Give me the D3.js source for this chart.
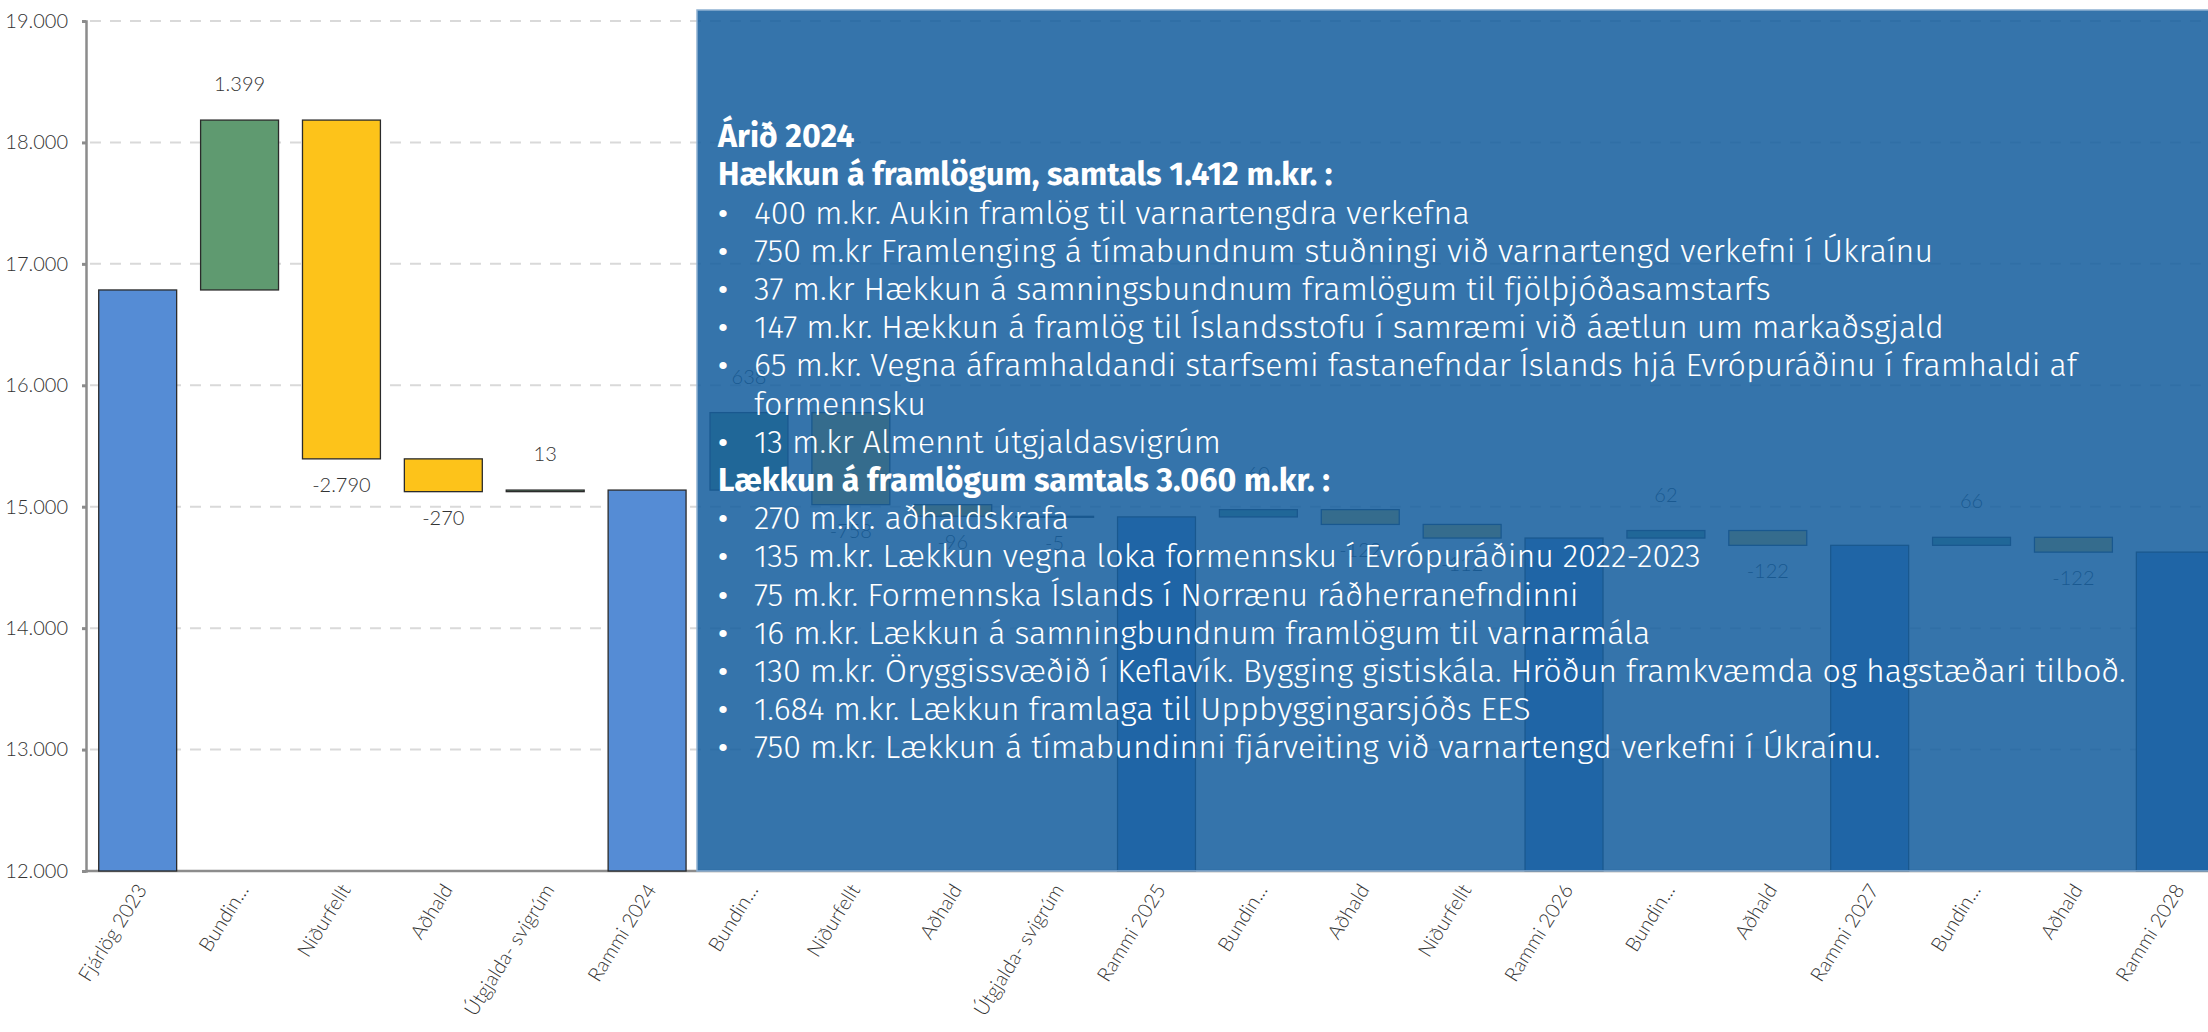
<!DOCTYPE html>
<html>
<head>
<meta charset="utf-8">
<script src="https://cdn.jsdelivr.net/npm/d3@7"></script>
<style>
  html, body { margin: 0; padding: 0; background: #fff; }
  svg { display: block; }
</style>
</head>
<body>
<div id="chart"></div>
<script>
// waterfall: fjárlög 2023 -> rammi 2028
const categories = ["Fjárlög 2023", "Bundin...", "Niðurfellt", "Aðhald", "Útgjalda- svigrúm", "Rammi 2024",
  "Bundin...", "Niðurfellt", "Aðhald", "Útgjalda- svigrúm", "Rammi 2025",
  "Bundin...", "Aðhald", "Niðurfellt", "Rammi 2026",
  "Bundin...", "Aðhald", "Rammi 2027",
  "Bundin...", "Aðhald", "Rammi 2028"];
// first entry is the starting level, totals carry 0 and are summed
const changes = [16785, 1399, -2790, -270, 13, 0,
  638, -758, -96, -5, 0,
  60, -122, -112, 0,
  62, -122, 0,
  66, -122, 0];
const isTotal = [true, false, false, false, false, true,
  false, false, false, false, true,
  false, false, false, true,
  false, false, true,
  false, false, true];
const yTicks = [12000, 13000, 14000, 15000, 16000, 17000, 18000, 19000];

// text box lines: h = heading, b = bullet, c = continued line
const noteLines = [
  ["h", "Árið 2024"],
  ["h", "Hækkun á framlögum, samtals 1.412 m.kr. :"],
  ["b", "400 m.kr. Aukin framlög til varnartengdra verkefna"],
  ["b", "750 m.kr Framlenging á tímabundnum stuðningi við varnartengd verkefni í Úkraínu"],
  ["b", "37 m.kr Hækkun á samningsbundnum framlögum til fjölþjóðasamstarfs"],
  ["b", "147 m.kr. Hækkun á framlög til Íslandsstofu í samræmi við áætlun um markaðsgjald"],
  ["b", "65 m.kr. Vegna áframhaldandi starfsemi fastanefndar Íslands hjá Evrópuráðinu í framhaldi af"],
  ["c", "formennsku"],
  ["b", "13 m.kr Almennt útgjaldasvigrúm"],
  ["h", "Lækkun á framlögum samtals 3.060 m.kr. :"],
  ["b", "270 m.kr. aðhaldskrafa"],
  ["b", "135 m.kr. Lækkun vegna loka formennsku í Evrópuráðinu 2022-2023"],
  ["b", "75 m.kr. Formennska Íslands í Norrænu ráðherranefndinni"],
  ["b", "16 m.kr. Lækkun á samningbundnum framlögum til varnarmála"],
  ["b", "130 m.kr. Öryggissvæðið í Keflavík. Bygging gistiskála. Hröðun framkvæmda og hagstæðari tilboð."],
  ["b", "1.684 m.kr. Lækkun framlaga til Uppbyggingarsjóðs EES"],
  ["b", "750 m.kr. Lækkun á tímabundinni fjárveiting við varnartengd verkefni í Úkraínu."]
];

const W = 2208, H = 1032;
const is = d3.formatLocale({ decimal: ",", thousands: ".", grouping: [3], currency: ["", ""], minus: "-" });
const fmt = is.format(",d");

// running levels
let level = 0;
const bars = categories.map((c, i) => {
  let start, end, kind;
  if (i === 0) { start = 0; end = changes[0]; level = end; kind = "total"; }
  else if (isTotal[i]) { start = 0; end = level; kind = "total"; }
  else { start = level; end = level + changes[i]; level = end; kind = changes[i] >= 0 ? "up" : "down"; }
  return { i: i, cat: c, start: start, end: end, kind: kind, delta: changes[i] };
});

const svg = d3.select("#chart").append("svg")
  .attr("width", W).attr("height", H);

const x = d3.scaleBand()
  .domain(d3.range(categories.length))
  .range([87, 2226])
  .paddingInner(0.235)
  .paddingOuter(0.115);

const y = d3.scaleLinear()
  .domain([12000, 19000])
  .range([871, 21]);

const colors = { total: "#558cd5", up: "#5f9a70", down: "#fdc31a" };

// gridlines
svg.append("g").selectAll("line")
  .data(yTicks.filter(d => d > 12000))
  .join("line")
  .attr("x1", 90).attr("x2", 2226)
  .attr("y1", d => y(d)).attr("y2", d => y(d))
  .attr("stroke", "#d9d9d9")
  .attr("stroke-width", 2)
  .attr("stroke-dasharray", "11,9");

// y axis
const yAxis = svg.append("g")
  .attr("transform", "translate(86,0)")
  .call(d3.axisLeft(y).tickValues(yTicks).tickFormat(d => fmt(d)).tickSize(4).tickPadding(14));
yAxis.select(".domain").attr("stroke", "#8c8c8c").attr("stroke-width", 2.5);
yAxis.selectAll(".tick line").attr("stroke", "#8c8c8c").attr("stroke-width", 3);
yAxis.selectAll(".tick text")
  .attr("font-family", "Lato, 'Open Sans', sans-serif")
  .attr("font-weight", 300)
  .attr("font-size", 20)
  .attr("fill", "#333");

// x axis line
svg.append("line")
  .attr("x1", 86).attr("x2", 2226)
  .attr("y1", y(12000)).attr("y2", y(12000))
  .attr("stroke", "#8c8c8c").attr("stroke-width", 2.5);

// bars
svg.append("g").selectAll("rect")
  .data(bars)
  .join("rect")
  .attr("x", d => x(d.i))
  .attr("width", x.bandwidth())
  .attr("y", d => y(Math.max(d.start, d.end) < 12000 ? 12000 : Math.max(d.start, d.end)))
  .attr("height", d => {
    const lo = d.kind === "total" ? 12000 : Math.min(d.start, d.end);
    return Math.max(1, y(lo) - y(Math.max(d.start, d.end)));
  })
  .attr("fill", d => colors[d.kind])
  .attr("stroke", "#2b2b2b")
  .attr("stroke-width", 1.3);

// value labels on the changes
svg.append("g").selectAll("text")
  .data(bars.filter(d => d.kind !== "total"))
  .join("text")
  .attr("x", d => x(d.i) + x.bandwidth() / 2)
  .attr("y", d => d.kind === "up" ? y(d.end) - 36 : y(d.end) + 26)
  .attr("dy", "0.35em")
  .attr("text-anchor", "middle")
  .attr("font-family", "Lato, 'Open Sans', sans-serif")
  .attr("font-weight", 300)
  .attr("font-size", 20)
  .attr("fill", "#333")
  .text(d => fmt(d.delta));

// category labels
svg.append("g").selectAll("text")
  .data(bars)
  .join("text")
  .attr("transform", d => "translate(" + (x(d.i) + x.bandwidth() / 2 + 4) + "," + 886 + ") rotate(-58)")
  .attr("text-anchor", "end")
  .attr("dy", "0.35em")
  .attr("font-family", "Lato, 'Open Sans', sans-serif")
  .attr("font-weight", 300)
  .attr("font-size", 20)
  .attr("fill", "#333")
  .text(d => d.cat);

// blue note box on top of the chart
const box = svg.append("g");
box.append("rect")
  .attr("x", 697).attr("y", 10)
  .attr("width", W - 697 + 10).attr("height", y(12000) - 10)
  .attr("fill", "rgb(23,95,159)")
  .attr("fill-opacity", 0.87)
  .attr("stroke", "#8fb1d2")
  .attr("stroke-width", 1.5);

const lineY = i => 136 + 38.2 * i;
const noteFont = "'Fira Sans', Lato, 'Open Sans', sans-serif";

const noteText = box.append("g").selectAll("text")
  .data(noteLines)
  .join("text")
  .attr("x", d => d[0] === "h" ? 718 : 754)
  .attr("y", (d, i) => lineY(i))
  .attr("dy", "0.35em")
  .attr("font-family", noteFont)
  .attr("font-weight", d => d[0] === "h" ? 700 : 300)
  .attr("font-size", 32)
  .attr("fill", "#fff")
  .text(d => d[1]);

// fit sizes to the widths in the picture
const longest = noteText.filter((d, i) => i === 14).node().getComputedTextLength();
const bodySize = 32 * 1372 / longest;
const head = noteText.filter((d, i) => i === 1).node().getComputedTextLength();
const headSize = 32 * 615 / head;
noteText.attr("font-size", d => d[0] === "h" ? headSize : bodySize);

box.append("g").selectAll("text")
  .data(noteLines.filter(d => d[0] === "b").map(d => noteLines.indexOf(d)))
  .join("text")
  .attr("x", 723)
  .attr("y", (d, k, n) => 0)
  .attr("y", d => lineY(d))
  .attr("dy", "0.35em")
  .attr("text-anchor", "middle")
  .attr("font-family", noteFont)
  .attr("font-size", bodySize)
  .attr("fill", "#fff")
  .text("•");
</script>
</body>
</html>
